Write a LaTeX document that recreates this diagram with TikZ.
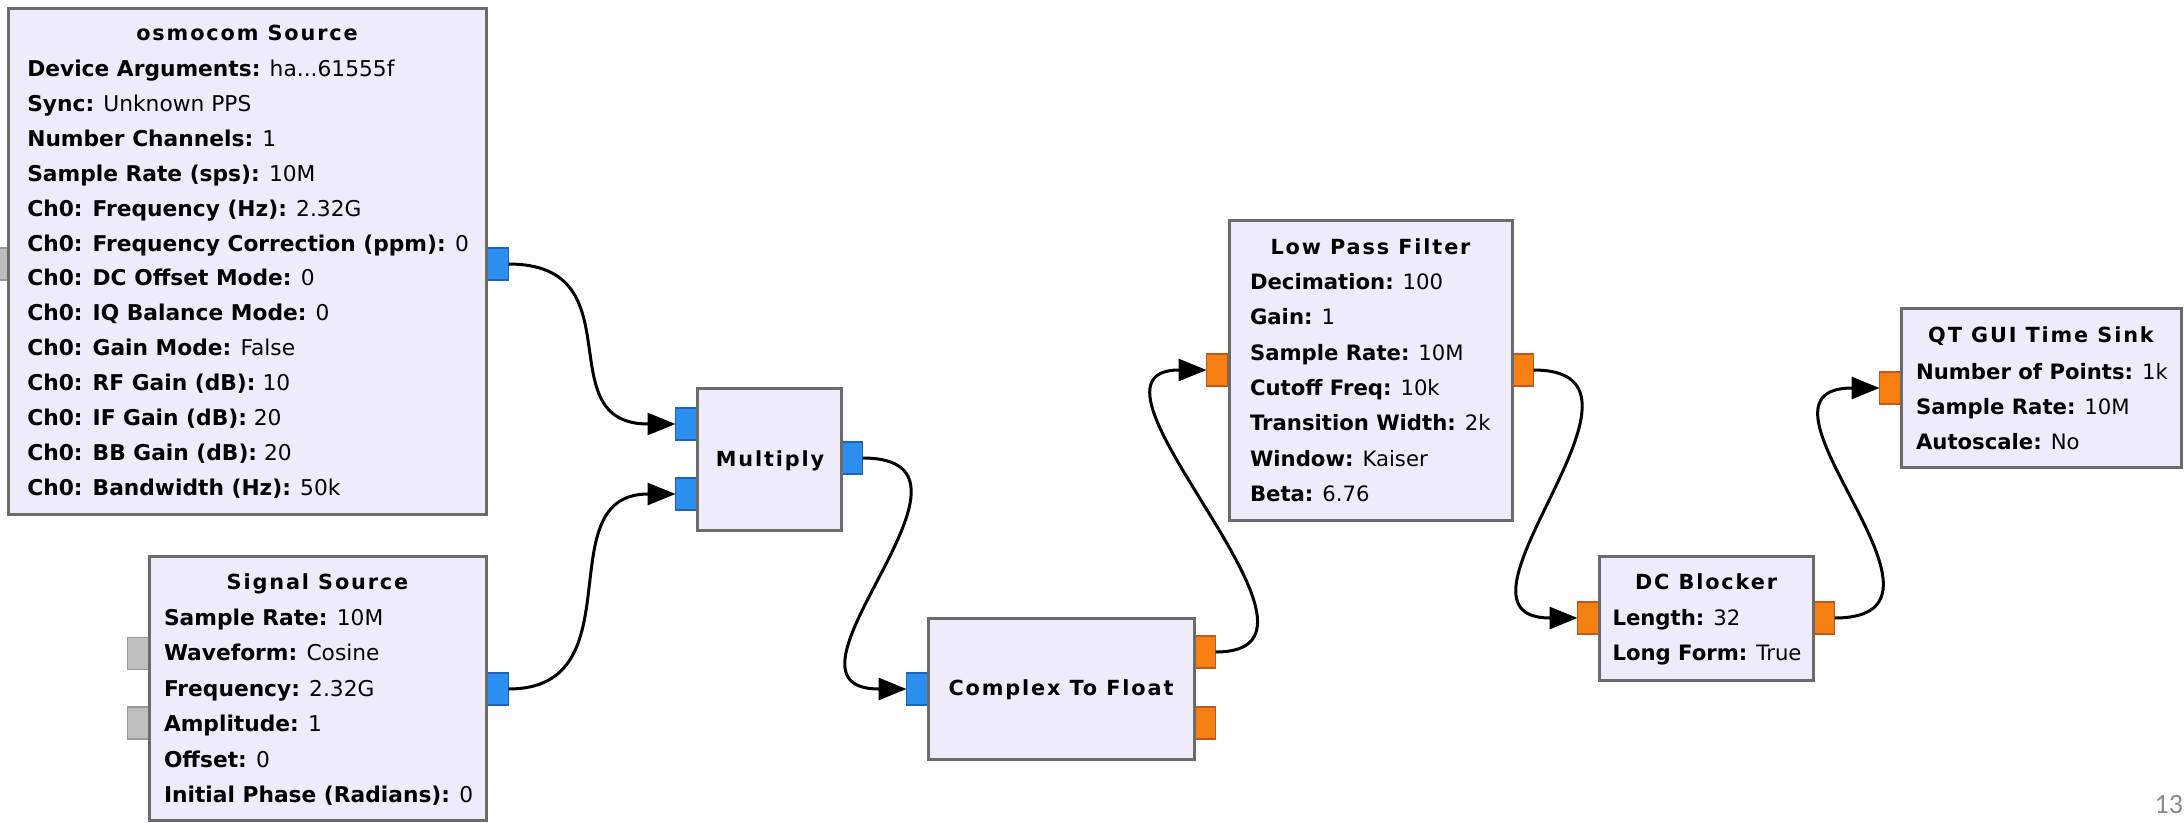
\documentclass[tikz,border=0pt]{standalone}
\usepackage{fontspec}
\setmainfont{DejaVu Sans}
\newfontfamily\ttlfont[LetterSpace=9]{DejaVu Sans}
\newfontfamily\pagefont{Carlito}
\usetikzlibrary{arrows.meta}

\definecolor{blockfill}{HTML}{EEEBFB}
\definecolor{blockedge}{HTML}{6B6B6B}
\definecolor{portblue}{HTML}{2B8FEF}
\definecolor{portblueedge}{HTML}{1B64B8}
\definecolor{portorange}{HTML}{F57F10}
\definecolor{portorangeedge}{HTML}{C4561A}
\definecolor{portgray}{HTML}{BEBEBE}
\definecolor{portgrayedge}{HTML}{9A9A9A}
\definecolor{pagegray}{HTML}{8A8A8A}

% device argument string (kept out of the \foreach list because of its dots)
\newcommand\devargs{ha...61555f}
% parameter text size, set per block
\newcommand\psize{21.2}

\begin{document}
\begin{tikzpicture}[x=1pt,y=-1pt,
  every node/.style={inner sep=0pt, outer sep=0pt},
  block/.style={rectangle, draw=blockedge, line width=3pt, fill=blockfill, anchor=north west},
  port/.style={rectangle, minimum width=21pt, minimum height=32pt, line width=1.6pt},
  cport/.style={port, fill=portblue, draw=portblueedge},
  fport/.style={port, fill=portorange, draw=portorangeedge},
  gport/.style={port, fill=portgray, draw=portgrayedge},
  wire/.style={line width=3pt, black, -{Triangle[length=28pt,width=22pt]}},
  ttl/.style={font=\ttlfont\fontsize{20.8}{24}\selectfont\bfseries, anchor=base},
  param/.style={font=\fontsize{\psize}{24}\selectfont, anchor=base west},
]
\useasboundingbox (0,0) rectangle (2184,822);
\clip (0,0) rectangle (2184,822);
\fill[white] (0,0) rectangle (2184,822);

% ---------- ports ----------
\node[gport] (osmo-in)  at (-2.5,264) {};
\node[cport] (osmo-out) at (498,264) {};
\node[gport] (sig-in1)  at (138,653.5) {};
\node[gport] (sig-in2)  at (138,723) {};
\node[cport] (sig-out)  at (498,689) {};
\node[cport] (mul-in1)  at (686,424) {};
\node[cport] (mul-in2)  at (686,494) {};
\node[cport] (mul-out)  at (852,458) {};
\node[cport] (ctf-in)   at (917,689) {};
\node[fport] (ctf-out1) at (1205,652) {};
\node[fport] (ctf-out2) at (1205,723) {};
\node[fport] (lpf-in)   at (1217,370) {};
\node[fport] (lpf-out)  at (1523,370) {};
\node[fport] (dc-in)    at (1588,618) {};
\node[fport] (dc-out)   at (1824,618) {};
\node[fport] (qt-in)    at (1890,388) {};

% ---------- blocks ----------
\node[block, minimum width=478pt, minimum height=506pt] (osmo) at (8,8) {};
\node[block, minimum width=337pt, minimum height=264pt] (sig)  at (149,556) {};
\node[block, minimum width=144pt, minimum height=142pt] (mul)  at (697,388) {};
\node[block, minimum width=266pt, minimum height=141pt] (ctf)  at (928,618) {};
\node[block, minimum width=283pt, minimum height=300pt] (lpf)  at (1229,220) {};
\node[block, minimum width=214pt, minimum height=124pt] (dc)   at (1599,556) {};
\node[block, minimum width=280pt, minimum height=159pt] (qt)   at (1901,308) {};

% ---------- osmocom Source ----------
\renewcommand\psize{21.75}
\node[ttl] (osmo-t) at (247,40.5) {osmocom Source};
\foreach \k/\v [count=\i from 0] in {
  Device Arguments/\devargs,
  Sync/Unknown PPS,
  Number Channels/1,
  Sample Rate (sps)/10M,
  Ch0: Frequency (Hz)/2.32G,
  Ch0: Frequency Correction (ppm)/0,
  Ch0: DC Offset Mode/0,
  Ch0: IQ Balance Mode/0,
  Ch0: Gain Mode/False,
  Ch0: RF Gain (dB)/10,
  Ch0: IF Gain (dB)/20,
  Ch0: BB Gain (dB)/20,
  Ch0: Bandwidth (Hz)/50k}
  \node[param] (osmo-p\i) at (27.3,76.5+\i*34.9) {\textbf{\k:} \v};

% ---------- Signal Source ----------
\node[ttl] (sig-t) at (317.5,589.5) {Signal Source};
\foreach \k/\v [count=\i from 0] in {
  Sample Rate/10M,
  Waveform/Cosine,
  Frequency/2.32G,
  Amplitude/1,
  Offset/0,
  Initial Phase (Radians)/0}
  \node[param] (sig-p\i) at (164,625.5+\i*35.4) {\textbf{\k:} \v};

% ---------- Multiply / Complex To Float ----------
\node[ttl] (mul-t) at (770,466) {Multiply};
\node[ttl] (ctf-t) at (1061,695.5) {Complex To Float};

% ---------- Low Pass Filter ----------
\renewcommand\psize{21.2}
\node[ttl] (lpf-t) at (1370.5,254.5) {Low Pass Filter};
\foreach \k/\v [count=\i from 0] in {
  Decimation/100,
  Gain/1,
  Sample Rate/10M,
  Cutoff Freq/10k,
  Transition Width/2k,
  Window/Kaiser,
  Beta/6.76}
  \node[param] (lpf-p\i) at (1250,289.5+\i*35.3) {\textbf{\k:} \v};

% ---------- DC Blocker ----------
\node[ttl] (dc-t) at (1706,589.5) {DC Blocker};
\foreach \k/\v [count=\i from 0] in {
  Length/32,
  Long Form/True}
  \node[param] (dc-p\i) at (1612.5,625.5+\i*35) {\textbf{\k:} \v};

% ---------- QT GUI Time Sink ----------
\node[ttl] (qt-t) at (2041,342.5) {QT GUI Time Sink};
\foreach \k/\v [count=\i from 0] in {
  Number of Points/1k,
  Sample Rate/10M,
  Autoscale/No}
  \node[param] (qt-p\i) at (1916,379.5+\i*35) {\textbf{\k:} \v};

% ---------- connections ----------
\draw[wire] (osmo-out.east) .. controls +(130,0) and +(-130,0) .. (mul-in1.west);
\draw[wire] (sig-out.east)  .. controls +(130,0) and +(-130,0) .. (mul-in2.west);
\draw[wire] (mul-out.east)  .. controls +(150,0) and +(-150,0) .. (ctf-in.west);
\draw[wire] (ctf-out1.east) .. controls +(150,0) and +(-150,0) .. (lpf-in.west);
\draw[wire] (lpf-out.east)  .. controls +(150,0) and +(-150,0) .. (dc-in.west);
\draw[wire] (dc-out.east)   .. controls +(150,0) and +(-150,0) .. (qt-in.west);

% ---------- page number ----------
\node[font=\pagefont\fontsize{28}{30}\selectfont, text=pagegray, anchor=base east] (pageno) at (2183,813) {13};
\end{tikzpicture}
\end{document}
